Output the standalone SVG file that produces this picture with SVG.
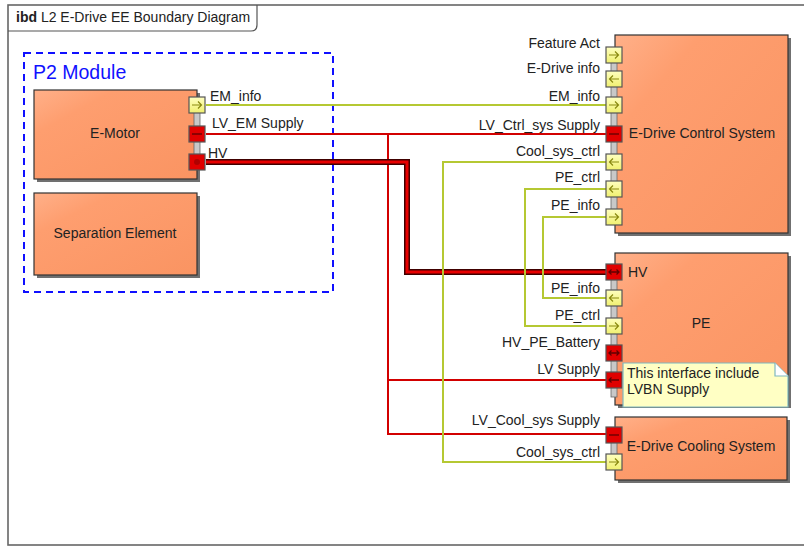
<svg xmlns="http://www.w3.org/2000/svg" width="804" height="548" viewBox="0 0 804 548">
<defs>
<linearGradient id="blk" x1="0" y1="0" x2="1" y2="1">
<stop offset="0" stop-color="#FFB089"/>
<stop offset="0.25" stop-color="#FE9E6F"/>
<stop offset="1" stop-color="#FA9462"/>
</linearGradient>
<linearGradient id="yp" x1="0" y1="0" x2="0" y2="1">
<stop offset="0" stop-color="#FFFFC0"/>
<stop offset="1" stop-color="#F0F070"/>
</linearGradient>
<style>
text{font-family:"Liberation Sans",Arial,sans-serif;font-size:14px;fill:#222}
.shadow{fill:#707070}
.block{fill:url(#blk);stroke:#333;stroke-width:1.2}
.strip{fill:#c8c8c8;stroke:#666;stroke-width:0.8}
.yport{fill:url(#yp);stroke:#555;stroke-width:1.2}
.rport{fill:#E00000;stroke:#555;stroke-width:1.2}
.glyph{fill:none;stroke:#8A8A10;stroke-width:1.2}
.rglyph{fill:none;stroke:#600000;stroke-width:1.3}
.yl{fill:none;stroke:#B5C832;stroke-width:2}
.rl{fill:none;stroke:#D20000;stroke-width:2}
.lab{text-anchor:end}
.ctr{text-anchor:middle}
</style>
</defs>
<rect width="804" height="548" fill="#ffffff"/>
<g id="frame">
<rect x="8" y="5" width="810" height="540" fill="none" stroke="#666" stroke-width="1.6"/>
<path d="M8,31 H251 Q257,31 257,25 V5" fill="none" stroke="#555" stroke-width="1.2"/>
<text x="16" y="22"><tspan font-weight="bold">ibd</tspan> L2 E-Drive EE Boundary Diagram</text>
</g>
<g id="p2module">
<rect x="24" y="53" width="309" height="239" fill="none" stroke="#1010FF" stroke-width="2" stroke-dasharray="7,5"/>
<text x="33" y="79" style="font-size:19.5px;fill:#1010FF">P2 Module</text>
</g>
<g id="connectors">
<path class="yl" d="M206,105 H606"/>
<path class="rl" d="M206,134 H606"/>
<path class="rl" d="M388,134 V434 H606 M388,380 H606"/>
<path d="M206,162 H407 V272 H606" fill="none" stroke="#400000" stroke-width="6"/>
<path d="M206,162 H407 V272 H606" fill="none" stroke="#E80000" stroke-width="3"/>
<path class="yl" d="M606,162 H443 V462 H606"/>
<path class="yl" d="M606,189 H525 V326 H606"/>
<path class="yl" d="M606,217 H543 V298 H606"/>
</g>
<g id="emotor">
<rect class="shadow" x="37" y="93" width="163" height="89"/>
<rect class="block" x="34" y="90" width="163" height="89"/>
<text class="ctr" x="115" y="138">E-Motor</text>
<rect class="strip" x="194" y="100" width="6" height="66"/>
<rect class="yport" x="189" y="97" width="16" height="16"/>
<path class="glyph" d="M192,105 H201 M198,101.5 L201.5,105 L198,108.5"/>
<rect class="rport" x="189" y="126" width="16" height="16"/>
<path class="rglyph" d="M192,134 H202"/>
<rect class="rport" x="189" y="154" width="16" height="16"/>
<circle cx="197" cy="162" r="3" fill="#B00000"/>
<text x="210" y="101">EM_info</text>
<text x="212" y="128">LV_EM Supply</text>
<text x="208" y="158">HV</text>
</g>
<g id="separation">
<rect class="shadow" x="37" y="196" width="163" height="82"/>
<rect class="block" x="34" y="193" width="163" height="82"/>
<text class="ctr" x="115" y="238">Separation Element</text>
</g>
<g id="edrive-control">
<rect class="shadow" x="618" y="38" width="173" height="198"/>
<rect class="block" x="615" y="35" width="173" height="198"/>
<text class="ctr" x="702" y="138">E-Drive Control System</text>
<rect class="strip" x="611" y="50" width="6" height="173"/>
<rect class="yport" x="606" y="47" width="16" height="16"/>
<path class="glyph" d="M609,55 H618 M615,51.5 L618.5,55 L615,58.5"/>
<rect class="yport" x="606" y="71" width="16" height="16"/>
<path class="glyph" d="M610,79 H619 M613,75.5 L609.5,79 L613,82.5"/>
<rect class="yport" x="606" y="97" width="16" height="16"/>
<path class="glyph" d="M609,105 H618 M615,101.5 L618.5,105 L615,108.5"/>
<rect class="rport" x="606" y="126" width="16" height="16"/>
<path class="rglyph" d="M609,134 H619"/>
<rect class="yport" x="606" y="154" width="16" height="16"/>
<path class="glyph" d="M610,162 H619 M613,158.5 L609.5,162 L613,165.5"/>
<rect class="yport" x="606" y="181" width="16" height="16"/>
<path class="glyph" d="M610,189 H619 M613,185.5 L609.5,189 L613,192.5"/>
<rect class="yport" x="606" y="209" width="16" height="16"/>
<path class="glyph" d="M609,217 H618 M615,213.5 L618.5,217 L615,220.5"/>
<text class="lab" x="600" y="48">Feature Act</text>
<text class="lab" x="600" y="73">E-Drive info</text>
<text class="lab" x="600" y="101">EM_info</text>
<text class="lab" x="600" y="130">LV_Ctrl_sys Supply</text>
<text class="lab" x="600" y="156">Cool_sys_ctrl</text>
<text class="lab" x="600" y="182">PE_ctrl</text>
<text class="lab" x="600" y="210">PE_info</text>
</g>
<g id="pe">
<rect class="shadow" x="618" y="256" width="173" height="152"/>
<rect class="block" x="615" y="253" width="173" height="152"/>
<text class="ctr" x="701" y="328">PE</text>
<rect class="strip" x="611" y="266" width="6" height="131"/>
<rect class="rport" x="606" y="264" width="16" height="16"/>
<path class="rglyph" d="M609,272 H619 M611.5,269.5 L609,272 L611.5,274.5 M616.5,269.5 L619,272 L616.5,274.5"/>
<rect class="yport" x="606" y="290" width="16" height="16"/>
<path class="glyph" d="M610,298 H619 M613,294.5 L609.5,298 L613,301.5"/>
<rect class="yport" x="606" y="318" width="16" height="16"/>
<path class="glyph" d="M609,326 H618 M615,322.5 L618.5,326 L615,329.5"/>
<rect class="rport" x="606" y="345" width="16" height="16"/>
<path class="rglyph" d="M609,353 H619 M611.5,350.5 L609,353 L611.5,355.5 M616.5,350.5 L619,353 L616.5,355.5"/>
<rect class="rport" x="606" y="372" width="16" height="16"/>
<path class="rglyph" d="M609,380 H619 M611.5,377.5 L609,380 L611.5,382.5"/>
<text x="628" y="277">HV</text>
<text class="lab" x="600" y="293">PE_info</text>
<text class="lab" x="600" y="320">PE_ctrl</text>
<text class="lab" x="600" y="347">HV_PE_Battery</text>
<text class="lab" x="600" y="374">LV Supply</text>
</g>
<g id="note">
<path d="M623,363 H775 L788,376 V407 H623 Z" fill="#FFFFC4" stroke="#7FB8C0" stroke-width="1.2"/>
<path d="M775,363 V376 H788" fill="#ffffff" stroke="#7FB8C0" stroke-width="1.2"/>
<text x="627" y="378">This interface include</text>
<text x="627" y="394">LVBN Supply</text>
</g>
<g id="cooling">
<rect class="shadow" x="618" y="420" width="172" height="63"/>
<rect class="block" x="615" y="417" width="172" height="63"/>
<text class="ctr" x="701" y="451">E-Drive Cooling System</text>
<rect class="strip" x="611" y="429" width="6" height="40"/>
<rect class="rport" x="606" y="427" width="16" height="16"/>
<path class="rglyph" d="M609,435 H619"/>
<rect class="yport" x="606" y="454" width="16" height="16"/>
<path class="glyph" d="M609,462 H618 M615,458.5 L618.5,462 L615,465.5"/>
<text class="lab" x="600" y="425">LV_Cool_sys Supply</text>
<text class="lab" x="600" y="457">Cool_sys_ctrl</text>
</g>
</svg>
